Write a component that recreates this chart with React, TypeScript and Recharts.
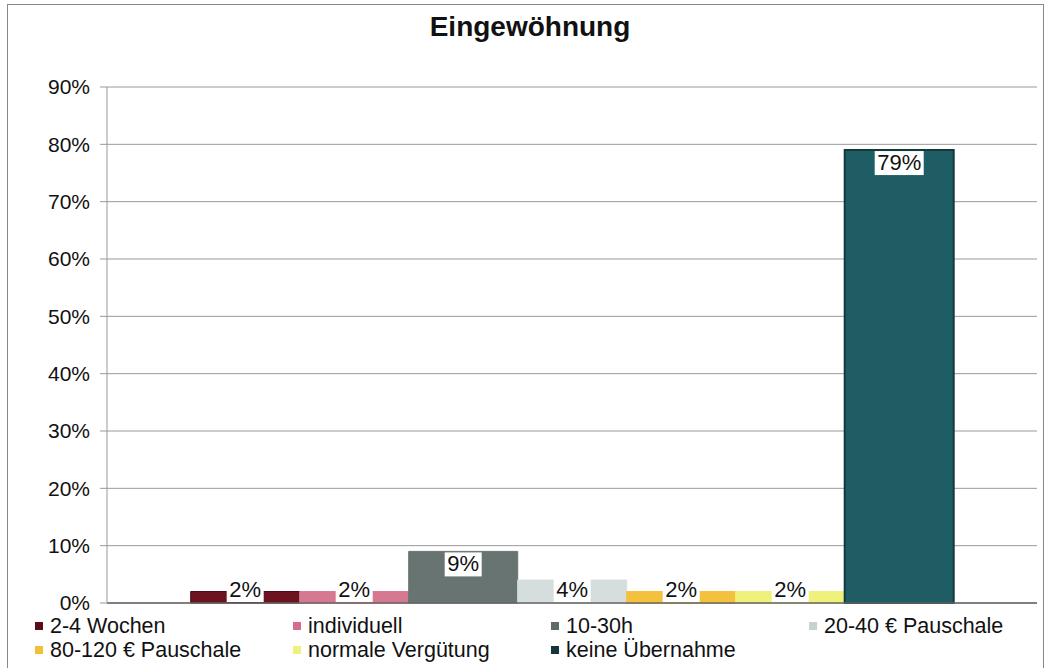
import {
  BarChart,
  Bar,
  XAxis,
  YAxis,
  CartesianGrid,
  Legend,
  ReferenceLine,
} from "recharts";

const title = "Eingewöhnung";
const seriesNames = [
  "2-4 Wochen",
  "individuell",
  "10-30h",
  "20-40 € Pauschale",
  "80-120 € Pauschale",
  "normale Vergütung",
  "keine Übernahme",
];
const seriesValues = [2, 2, 9, 4, 2, 2, 79];
const seriesColors = [
  "#6d1320",
  "#d77892",
  "#687472",
  "#d6dddd",
  "#f4c13f",
  "#eef27c",
  "#1f5d64",
];
const legendColors = [
  "#5a0f18",
  "#cf6f8b",
  "#5f6b69",
  "#c9d0d0",
  "#f2c035",
  "#eef27c",
  "#17363b",
];
const yTicks = [0, 10, 20, 30, 40, 50, 60, 70, 80, 90];

const row: Record<string, string | number> = { name: title };
seriesNames.forEach((n, i) => {
  row["s" + i] = seriesValues[i];
});
const data = [row];

const font = "'Liberation Sans', Arial, sans-serif";
const baseY = 603;
const legendH = 50;

const ValueLabel = (props: any) => {
  const { x, y, width, value } = props;
  const text = value + "%";
  const w = text.length * 12 + 13;
  const h = 24;
  const top = Math.min(y + 1, baseY - h - 1);
  const cx = x + width / 2;
  return (
    <g>
      <rect x={cx - w / 2} y={top} width={w} height={h} fill="#fff" />
      <text
        x={cx}
        y={top + h / 2 + 1}
        textAnchor="middle"
        dominantBaseline="middle"
        fontSize={22}
        fontFamily={font}
        fill="#111"
      >
        {text}
      </text>
    </g>
  );
};

const LegendBox = () => (
  <div style={{ position: "relative", width: 1047, height: legendH }}>
    {seriesNames.map((n, i) => {
      const col = i % 4;
      const r = Math.floor(i / 4);
      return (
        <div
          key={n}
          style={{
            position: "absolute",
            left: 35 + col * 258,
            top: r * 24,
            display: "flex",
            alignItems: "center",
            height: 24,
            fontFamily: font,
            fontSize: 21.5,
            color: "#111",
            whiteSpace: "nowrap",
          }}
        >
          <span
            style={{
              display: "inline-block",
              width: 8,
              height: 8,
              background: legendColors[i],
              marginRight: 7,
            }}
          />
          {n}
        </div>
      );
    })}
  </div>
);

const App = () => {
  return (
    <div
      style={{
        position: "absolute",
        left: 0,
        top: 0,
        width: 1047,
        height: 668,
        background: "#fff",
        overflow: "hidden",
      }}
    >
      <div
        style={{
          position: "absolute",
          left: 7,
          top: 4,
          width: 1035,
          height: 680,
          border: "1px solid #888",
        }}
      />
      <div
        style={{
          position: "absolute",
          left: 0,
          top: 11,
          width: 1060,
          textAlign: "center",
          fontFamily: font,
          fontWeight: "bold",
          fontSize: 28,
          color: "#111",
        }}
      >
        {title}
      </div>
      <div style={{ position: "absolute", left: 0, top: 0 }}>
        <BarChart
          width={1047}
          height={668}
          data={data}
          margin={{ top: 87, right: 10, bottom: 65 - legendH, left: 0 }}
          barCategoryGap="9%"
          barGap={0}
        >
          <CartesianGrid vertical={false} stroke="#9a9a9a" />
          <XAxis dataKey="name" hide />
          <YAxis
            width={107}
            domain={[0, 90]}
            ticks={yTicks}
            interval={0}
            tickFormatter={(v) => v + "%"}
            tick={{ fontSize: 21, fontFamily: font, fill: "#111" }}
            tickSize={7}
            tickMargin={10}
            stroke="#999"
          />
          <ReferenceLine y={0} stroke="#666" strokeWidth={1.5} />
          {seriesNames.map((n, i) => (
            <Bar
              key={n}
              dataKey={"s" + i}
              name={n}
              fill={seriesColors[i]}
              stroke={i === 6 ? "#123a3e" : i === 0 ? "#4a0a12" : seriesColors[i]}
              strokeWidth={i === 6 ? 2 : 1}
              isAnimationActive={false}
              label={<ValueLabel />}
            />
          ))}
          <Legend
            content={<LegendBox />}
            wrapperStyle={{ left: 0, top: 614, width: 1047 }}
          />
        </BarChart>
      </div>
    </div>
  );
};

export default App;
